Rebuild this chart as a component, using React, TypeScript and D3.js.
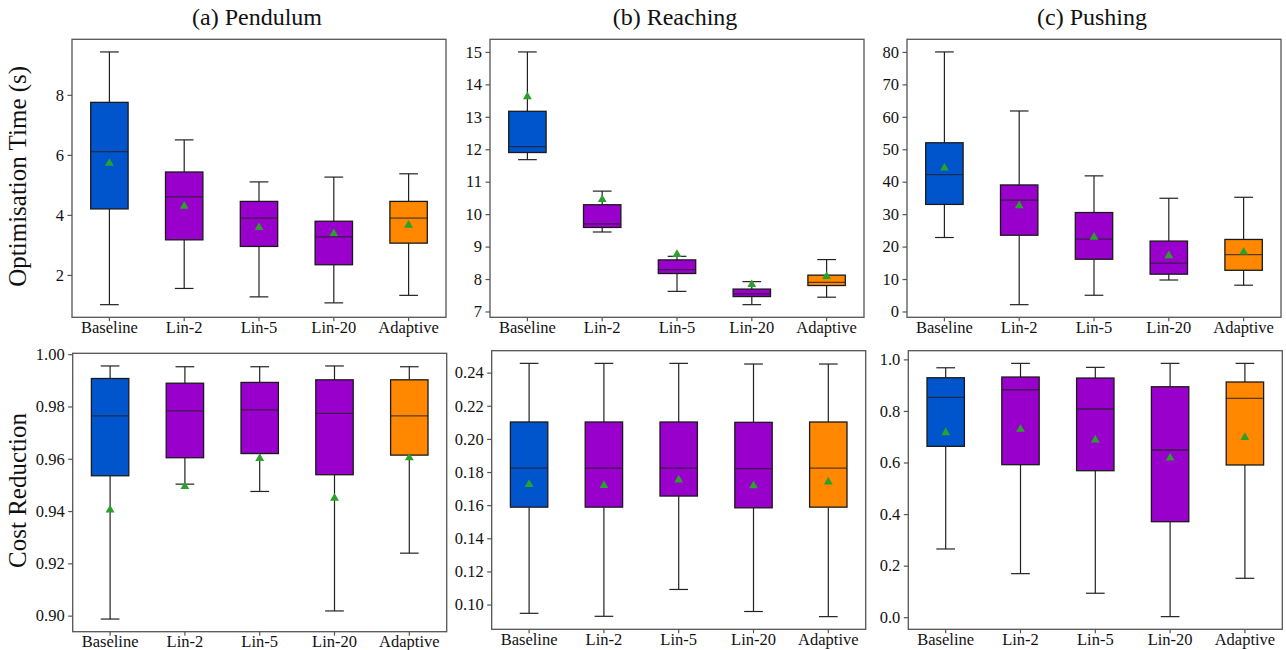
import React, { useEffect, useRef } from "react";
import * as d3 from "d3";

const categories = ["Baseline", "Lin-2", "Lin-5", "Lin-20", "Adaptive"];

// each row: [whiskerLow, q1, median, q3, whiskerHigh, mean]
const pendulumTime = [
  [1.01, 4.2, 6.11, 7.75, 9.43, 5.74],
  [1.55, 3.17, 4.6, 5.43, 6.5, 4.31],
  [1.27, 2.95, 3.89, 4.45, 5.1, 3.6],
  [1.07, 2.34, 3.27, 3.79, 5.26, 3.4],
  [1.32, 3.06, 3.89, 4.45, 5.37, 3.68],
];
const reachingTime = [
  [11.68, 11.9, 12.08, 13.17, 15.0, 13.64],
  [9.45, 9.59, 9.7, 10.29, 10.71, 10.47],
  [7.62, 8.17, 8.29, 8.59, 8.7, 8.78],
  [7.21, 7.46, 7.54, 7.69, 7.92, 7.85],
  [7.44, 7.8, 7.9, 8.12, 8.6, 8.1],
];
const pushingTime = [
  [22.8, 33, 42.2, 52, 80, 44.4],
  [2.1, 23.5, 34.3, 39, 61.8, 32.8],
  [5.0, 16.1, 22.3, 30.5, 41.8, 23.1],
  [9.7, 11.5, 14.9, 21.7, 34.9, 17.4],
  [8.1, 12.7, 17.5, 22.2, 35.2, 18.5],
];
const pendulumCost = [
  [0.8987, 0.9535, 0.9764, 0.9907, 0.9955, 0.9407],
  [0.9503, 0.9604, 0.9783, 0.9889, 0.9952, 0.9496],
  [0.9475, 0.962, 0.9787, 0.9892, 0.9952, 0.9604],
  [0.9018, 0.9539, 0.9774, 0.9902, 0.9955, 0.9452],
  [0.9239, 0.9614, 0.9764, 0.9902, 0.9952, 0.9606],
];
const reachingCost = [
  [0.0947, 0.1588, 0.1824, 0.2102, 0.2456, 0.1729],
  [0.0929, 0.1588, 0.1824, 0.2102, 0.2456, 0.1723],
  [0.1091, 0.1655, 0.1824, 0.2102, 0.2456, 0.1756],
  [0.0958, 0.1584, 0.182, 0.21, 0.2452, 0.1721],
  [0.0927, 0.1588, 0.1824, 0.2102, 0.2452, 0.1744],
];
const pushingCost = [
  [0.2647, 0.6628, 0.8527, 0.9287, 0.9674, 0.7184],
  [0.169, 0.5916, 0.8822, 0.9315, 0.9845, 0.7313],
  [0.093, 0.5682, 0.8075, 0.9276, 0.969, 0.69],
  [0.0023, 0.3705, 0.6486, 0.8938, 0.9845, 0.6202],
  [0.151, 0.5904, 0.8488, 0.9122, 0.9845, 0.7],
];

const pendulumTimeTicks = [2, 4, 6, 8];
const reachingTimeTicks = [7, 8, 9, 10, 11, 12, 13, 14, 15];
const pushingTimeTicks = [0, 10, 20, 30, 40, 50, 60, 70, 80];
const pendulumCostTicks = [0.9, 0.92, 0.94, 0.96, 0.98, 1.0];
const reachingCostTicks = [0.1, 0.12, 0.14, 0.16, 0.18, 0.2, 0.22, 0.24];
const pushingCostTicks = [0.0, 0.2, 0.4, 0.6, 0.8, 1.0];

const titles = ["(a) Pendulum", "(b) Reaching", "(c) Pushing"];
const rowLabels = ["Optimisation Time (s)", "Cost Reduction"];

const boxColors = ["#0055cc", "#9900cc", "#9900cc", "#9900cc", "#ff8800"];
const FONT = "Liberation Serif, Times New Roman, serif";

const panels = [
  { stats: pendulumTime, ticks: pendulumTimeTicks, fmt: "d", x: 72, y: 39.3, h: 278 },
  { stats: reachingTime, ticks: reachingTimeTicks, fmt: "d", x: 490, y: 39.3, h: 278 },
  { stats: pushingTime, ticks: pushingTimeTicks, fmt: "d", x: 907, y: 39.3, h: 278 },
  { stats: pendulumCost, ticks: pendulumCostTicks, fmt: ".2f", x: 72.7, y: 353.3, h: 278.4 },
  { stats: reachingCost, ticks: reachingCostTicks, fmt: ".2f", x: 491.7, y: 350.7, h: 278.6 },
  { stats: pushingCost, ticks: pushingCostTicks, fmt: ".1f", x: 908.3, y: 350.7, h: 278.6 },
];

const App = () => {
  const chartRef = useRef(null);

  useEffect(() => {
    drawChart();
  }, []);

  const drawChart = () => {
    const width = 1286;
    const height = 650;
    const panelW = 374;

    const svg = d3.select(chartRef.current);
    svg.selectAll("*").remove();
    svg.attr("width", width).attr("height", height);

    panels.forEach((p, i) => {
      const g = svg.append("g").attr("transform", `translate(${p.x},${p.y})`);

      const all = p.stats.flat();
      const lo = d3.min(all);
      const hi = d3.max(all);
      const pad = (hi - lo) * 0.05;

      const x = d3.scaleBand().domain(categories).range([0, panelW]).padding(0);
      const y = d3.scaleLinear().domain([lo - pad, hi + pad]).range([p.h, 0]);
      const bw = x.bandwidth();
      const cx = (c) => x(c) + bw / 2;

      // boxes
      p.stats.forEach((s, j) => {
        const c = categories[j];
        const [wl, q1, med, q3, wh, mean] = s;
        const bx = g.append("g");
        const stroke = "#222";
        bx.append("line")
          .attr("x1", cx(c)).attr("x2", cx(c))
          .attr("y1", y(q3)).attr("y2", y(wh))
          .attr("stroke", stroke).attr("stroke-width", 1.2);
        bx.append("line")
          .attr("x1", cx(c)).attr("x2", cx(c))
          .attr("y1", y(q1)).attr("y2", y(wl))
          .attr("stroke", stroke).attr("stroke-width", 1.2);
        [wl, wh].forEach((v) => {
          bx.append("line")
            .attr("x1", cx(c) - bw * 0.125).attr("x2", cx(c) + bw * 0.125)
            .attr("y1", y(v)).attr("y2", y(v))
            .attr("stroke", stroke).attr("stroke-width", 1.2);
        });
        bx.append("rect")
          .attr("x", cx(c) - bw * 0.25)
          .attr("y", y(q3))
          .attr("width", bw * 0.5)
          .attr("height", y(q1) - y(q3))
          .attr("fill", boxColors[j])
          .attr("stroke", "#1a1a1a")
          .attr("stroke-width", 1.3);
        bx.append("line")
          .attr("x1", cx(c) - bw * 0.25).attr("x2", cx(c) + bw * 0.25)
          .attr("y1", y(med)).attr("y2", y(med))
          .attr("stroke", "#222").attr("stroke-opacity", 0.75).attr("stroke-width", 1.3);
        bx.append("path")
          .attr("d", d3.symbol(d3.symbolTriangle, 34)())
          .attr("transform", `translate(${cx(c)},${y(mean) + 0.6})`)
          .attr("fill", "#2ca02c");
      });

      // frame
      g.append("rect")
        .attr("width", panelW).attr("height", p.h)
        .attr("fill", "none").attr("stroke", "#555").attr("stroke-width", 1.3);

      const yAxis = g.append("g").call(
        d3.axisLeft(y).tickValues(p.ticks).tickSize(4.5).tickPadding(3.5).tickFormat(d3.format(p.fmt))
      );
      const xAxis = g.append("g").attr("transform", `translate(0,${p.h})`).call(
        d3.axisBottom(x).tickSize(4).tickPadding(0)
      );
      [yAxis, xAxis].forEach((a) => {
        a.attr("font-family", FONT).attr("font-size", 16.5);
        a.select(".domain").remove();
        a.selectAll(".tick line").attr("stroke", "#555").attr("stroke-width", 1.2);
        a.selectAll(".tick text")
          .attr("fill", "#111")
          .attr("font-family", FONT)
          .attr("font-size", 16.5);
      });
      xAxis.selectAll(".tick text").attr("dy", "0.68em");

      if (i < 3) {
        svg.append("text")
          .attr("x", p.x + panelW / 2 - 2)
          .attr("y", 25)
          .attr("text-anchor", "middle")
          .attr("font-family", FONT)
          .attr("font-size", 24)
          .attr("fill", "#111")
          .text(titles[i]);
      }
      if (i % 3 === 0) {
        svg.append("text")
          .attr("transform", `translate(26,${p.y + p.h / 2 - 2}) rotate(-90)`)
          .attr("text-anchor", "middle")
          .attr("font-family", FONT)
          .attr("font-size", 25)
          .attr("fill", "#111")
          .text(rowLabels[i / 3]);
      }
    });
  };

  return (
    <svg
      ref={chartRef}
      style={{ position: "absolute", left: 0, top: 0, background: "#fff" }}
    ></svg>
  );
};

export default App;
